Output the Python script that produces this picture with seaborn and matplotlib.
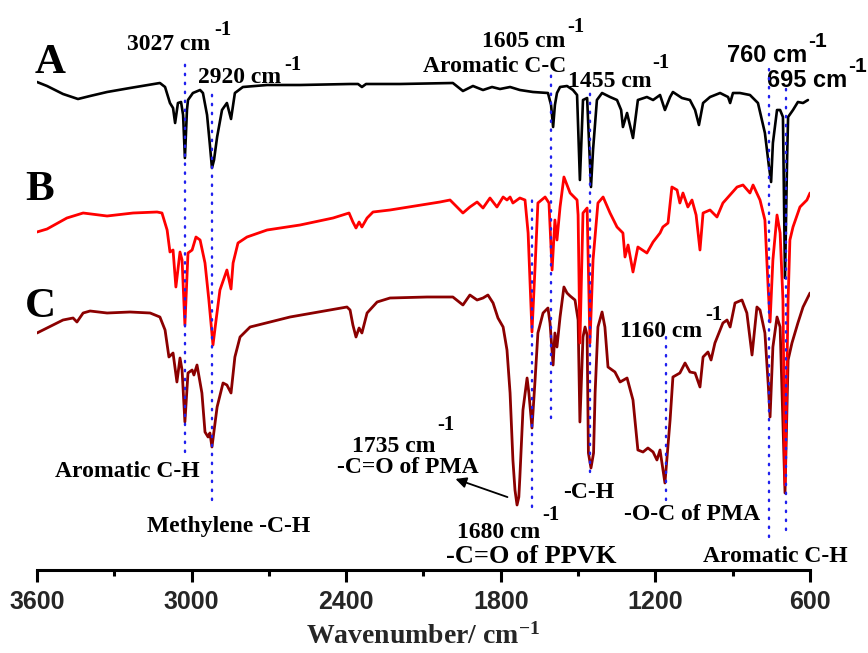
import matplotlib
matplotlib.use("Agg")
import matplotlib.pyplot as plt
import seaborn as sns

# === data (wavenumber in cm-1, transmittance in a.u. with offsets) ===

wn_A = [3600, 3561, 3499, 3441, 3394, 3328, 3239, 3123, 3103, 3084, 3072, 3064, 3053, 3041,
        3033, 3026, 3018, 3014, 2995, 2967, 2956, 2940, 2929, 2921, 2913, 2901, 2882, 2863,
        2847, 2832, 2801, 2707, 2579, 2385, 2354, 2339, 2323, 2191, 1986, 1947, 1908, 1869,
        1834, 1803, 1764, 1726, 1675, 1617, 1605, 1597, 1590, 1582, 1570, 1543, 1520, 1504,
        1493, 1481, 1465, 1450, 1442, 1427, 1407, 1376, 1349, 1333, 1326, 1310, 1287, 1268,
        1233, 1209, 1182, 1163, 1143, 1132, 1097, 1066, 1046, 1031, 1015, 988, 949, 918,
        910, 899, 872, 833, 802, 775, 760, 751, 744, 728, 716, 705, 697, 689, 685, 666, 647,
        627, 608]
t_A = [488, 484, 476, 471, 474, 478, 482, 487, 483, 467, 462, 447, 467, 468,
       455, 412, 460, 470, 477, 480, 477, 455, 425, 402, 410, 433, 460, 467,
       451, 477, 483, 485, 485, 486, 486, 483, 486, 486, 487, 479, 484, 480,
       483, 481, 483, 480, 478, 477, 465, 443, 465, 477, 483, 484, 480, 475,
       390, 470, 472, 383, 420, 470, 477, 473, 470, 460, 443, 457, 432, 470,
       473, 470, 475, 460, 473, 478, 472, 470, 460, 445, 467, 473, 477, 473,
       467, 477, 477, 475, 467, 437, 405, 388, 427, 460, 460, 453, 292, 410, 453, 460, 468,
       467, 470]

wn_B = [3600, 3561, 3484, 3421, 3328, 3227, 3134, 3115, 3095, 3084, 3072, 3061, 3045, 3037,
        3026, 3014, 2998, 2983, 2967, 2948, 2933, 2917, 2905, 2890, 2863, 2847, 2839, 2820,
        2785, 2707, 2579, 2451, 2389, 2374, 2362, 2350, 2339, 2319, 2296, 2230, 2036, 1997,
        1970, 1947, 1920, 1892, 1869, 1842, 1815, 1791, 1776, 1764, 1753, 1726, 1706, 1694,
        1679, 1667, 1656, 1628, 1613, 1601, 1590, 1582, 1570, 1555, 1531, 1504, 1500, 1493,
        1481, 1465, 1454, 1442, 1423, 1403, 1376, 1349, 1326, 1318, 1306, 1287, 1268, 1233,
        1209, 1182, 1171, 1151, 1136, 1116, 1105, 1093, 1074, 1058, 1042, 1027, 1015, 988,
        961, 938, 883, 860, 833, 821, 794, 775, 762, 755, 744, 728, 716, 705, 697, 685, 678,
        666, 639, 612, 600]
t_B = [338, 341, 352, 357, 354, 357, 358, 357, 340, 318, 320, 283, 318, 310,
       245, 317, 320, 333, 330, 307, 270, 225, 250, 280, 300, 281, 307, 327,
       333, 340, 345, 352, 357, 348, 342, 348, 343, 352, 358, 360, 368, 370,
       363, 357, 363, 368, 362, 372, 363, 373, 370, 373, 367, 372, 370, 337,
       238, 303, 367, 373, 367, 300, 350, 330, 363, 393, 377, 370, 355, 227,
       357, 362, 227, 310, 367, 373, 357, 343, 337, 313, 325, 298, 323, 317,
       328, 337, 343, 347, 383, 380, 367, 377, 363, 370, 355, 320, 357, 360,
       353, 367, 383, 385, 377, 385, 370, 350, 280, 248, 310, 355, 337, 270, 85, 270, 330,
       343, 363, 370, 377]

wn_C = [3600, 3561, 3499, 3460, 3445, 3421, 3394, 3328, 3239, 3161, 3123, 3103, 3088, 3072,
        3057, 3045, 3037, 3026, 3014, 2998, 2991, 2979, 2960, 2948, 2936, 2929, 2921, 2901,
        2878, 2863, 2847, 2832, 2812, 2773, 2618, 2397, 2385, 2374, 2362, 2350, 2339, 2319,
        2280, 2230, 2086, 1986, 1947, 1920, 1892, 1869, 1850, 1830, 1811, 1791, 1776, 1764,
        1753, 1745, 1737, 1730, 1726, 1714, 1698, 1691, 1679, 1667, 1656, 1636, 1617, 1609,
        1597, 1590, 1582, 1570, 1555, 1543, 1531, 1512, 1500, 1493, 1481, 1473, 1465, 1460,
        1450, 1440, 1434, 1423, 1407, 1396, 1384, 1357, 1337, 1310, 1287, 1268, 1248, 1229,
        1209, 1194, 1182, 1163, 1143, 1132, 1105, 1085, 1066, 1046, 1027, 1015, 996, 984,
        969, 938, 922, 910, 891, 864, 845, 825, 806, 794, 775, 762, 755, 744, 728, 716,
        697, 685, 670, 647, 627, 600]
t_C = [237, 242, 250, 252, 248, 257, 259, 257, 258, 257, 253, 240, 213, 217,
       188, 212, 200, 148, 197, 200, 195, 205, 177, 138, 133, 137, 123, 163,
       187, 185, 177, 213, 233, 243, 253, 263, 260, 245, 233, 242, 237, 257,
       268, 272, 273, 273, 265, 275, 270, 272, 275, 267, 252, 243, 220, 177,
       110, 80, 65, 73, 93, 160, 192, 177, 142, 190, 237, 257, 262, 247,
       205, 237, 223, 253, 283, 277, 274, 270, 250, 148, 233, 243, 235, 117,
       102, 117, 177, 243, 258, 243, 203, 198, 188, 192, 170, 120, 118, 122,
       118, 110, 120, 87, 150, 193, 197, 207, 198, 197, 183, 213, 218, 210,
       227, 247, 250, 243, 267, 270, 257, 215, 263, 260, 237, 185, 153, 223, 253, 243,
       77, 210, 227, 247, 263, 277]

# marked bands: (wavenumber, top, bottom) of the dotted guide lines
bands = [(3027, 510, 118), (2920, 482, 70), (1605, 498, 152), (1455, 482, 98),
         (1680, 377, 63), (1160, 235, 70), (760, 505, 33), (695, 482, 40)]

# === style ===
sns.set_theme(style="white")
plt.rcParams["font.family"] = ["Liberation Serif", "DejaVu Serif"]
plt.rcParams["font.weight"] = "bold"
plt.rcParams["mathtext.fontset"] = "custom"
plt.rcParams["mathtext.bf"] = "Liberation Serif:bold"
plt.rcParams["mathtext.rm"] = "Liberation Serif:bold"
plt.rcParams["mathtext.default"] = "bf"

fig = plt.figure(figsize=(8.68, 6.53), dpi=100)
ax = fig.add_axes([37 / 868, 83 / 653, 773 / 868, 570 / 653])

sns.lineplot(x=wn_C, y=t_C, ax=ax, color="#8B0000", lw=2.0, sort=False, estimator=None)
sns.lineplot(x=wn_B, y=t_B, ax=ax, color="#FF0000", lw=2.0, sort=False, estimator=None)
sns.lineplot(x=wn_A, y=t_A, ax=ax, color="black", lw=1.9, sort=False, estimator=None)

for wn, top, bot in bands:
    ax.plot([wn, wn], [bot, top], color="#2020ee", lw=1.7, linestyle=(0, (0.6, 3.2)),
            dash_capstyle="round", zorder=5)

ax.set_xlim(3600, 600)
ax.set_ylim(0, 570)
ax.set_xticks([3600, 3000, 2400, 1800, 1200, 600])
ax.set_xticks([3300, 2700, 2100, 1500, 900], minor=True)
ax.set_yticks([])
sns.despine(ax=ax, left=True, top=True, right=True)
ax.spines["bottom"].set_linewidth(2.2)
ax.spines["bottom"].set_color("black")
ax.tick_params(axis="x", which="major", direction="out", length=8.5, width=2.2,
               pad=6, bottom=True, color="black")
ax.tick_params(axis="x", which="minor", direction="out", length=4.5, width=2.2,
               bottom=True, color="black")
for lab in ax.get_xticklabels():
    lab.set_fontfamily("Liberation Sans")
    lab.set_fontweight("bold")
    lab.set_fontsize(18)

ax.set_xlabel(r"Wavenumber/ cm$^{\mathbf{-1}}$", fontsize=20, fontweight="bold")
ax.xaxis.set_label_coords(0.4994, -0.094)
ax.set_ylabel("")

serif = dict(fontweight="bold", va="baseline", ha="left", color="black")
sans = dict(fontweight="bold", va="baseline", ha="left", color="black",
            family="Liberation Sans")

# sample letters
ax.text(3608, 497, "A", fontsize=31, **serif)
ax.text(3647, 370, "B", fontsize=31, **serif)
ax.text(3647, 253, "C", fontsize=31, **serif)

# band labels with raised "-1"
ax.text(3251, 520, "3027 cm", fontsize=17, **serif)
ax.text(2913, 535, "-1", fontsize=15, **serif)
ax.text(2975, 487, "2920 cm", fontsize=17, **serif)
ax.text(2641, 500, "-1", fontsize=15, **serif)
ax.text(1873, 523, "1605 cm", fontsize=17, **serif)
ax.text(1543, 538, "-1", fontsize=15, **serif)
ax.text(2102, 498, "Aromatic C-C", fontsize=17, **serif)
ax.text(1539, 483, "1455 cm", fontsize=17, **serif)
ax.text(1213, 502, "-1", fontsize=15, **serif)
ax.text(922, 508, "760 cm", fontsize=17, **sans)
ax.text(608, 523, "-1", fontsize=15, **sans)
ax.text(767, 483, "695 cm", fontsize=17, **sans)
ax.text(453, 498, "-1", fontsize=15, **sans)
ax.text(1337, 233, "1160 cm", fontsize=17, **serif)
ax.text(1007, 250, "-1", fontsize=15, **serif)

ax.text(3530, 93, "Aromatic C-H", fontsize=17, **serif)
ax.text(3173, 38, "Methylene -C-H", fontsize=17, **serif)
ax.text(2378, 118, "1735 cm", fontsize=17, **serif)
ax.text(2048, 140, "-1", fontsize=15, **serif)
ax.text(2436, 97, "-C=O of PMA", fontsize=17, **serif)
ax.annotate("", xy=(1986, 92), xytext=(1764, 72),
            arrowprops=dict(arrowstyle="-|>", lw=1.3, color="black", mutation_scale=16))
ax.text(1970, 32, "1680 cm", fontsize=17, **serif)
ax.text(1640, 50, "-1", fontsize=15, **serif)
ax.text(2013, 7, "-C=O of PPVK", fontsize=19, **serif)
ax.text(1559, 72, "-C-H", fontsize=17, **serif)
ax.text(1322, 50, "-O-C of PMA", fontsize=17, **serif)
ax.text(1015, 8, "Aromatic C-H", fontsize=17, **serif)

fig.savefig("out.png", dpi=100)
